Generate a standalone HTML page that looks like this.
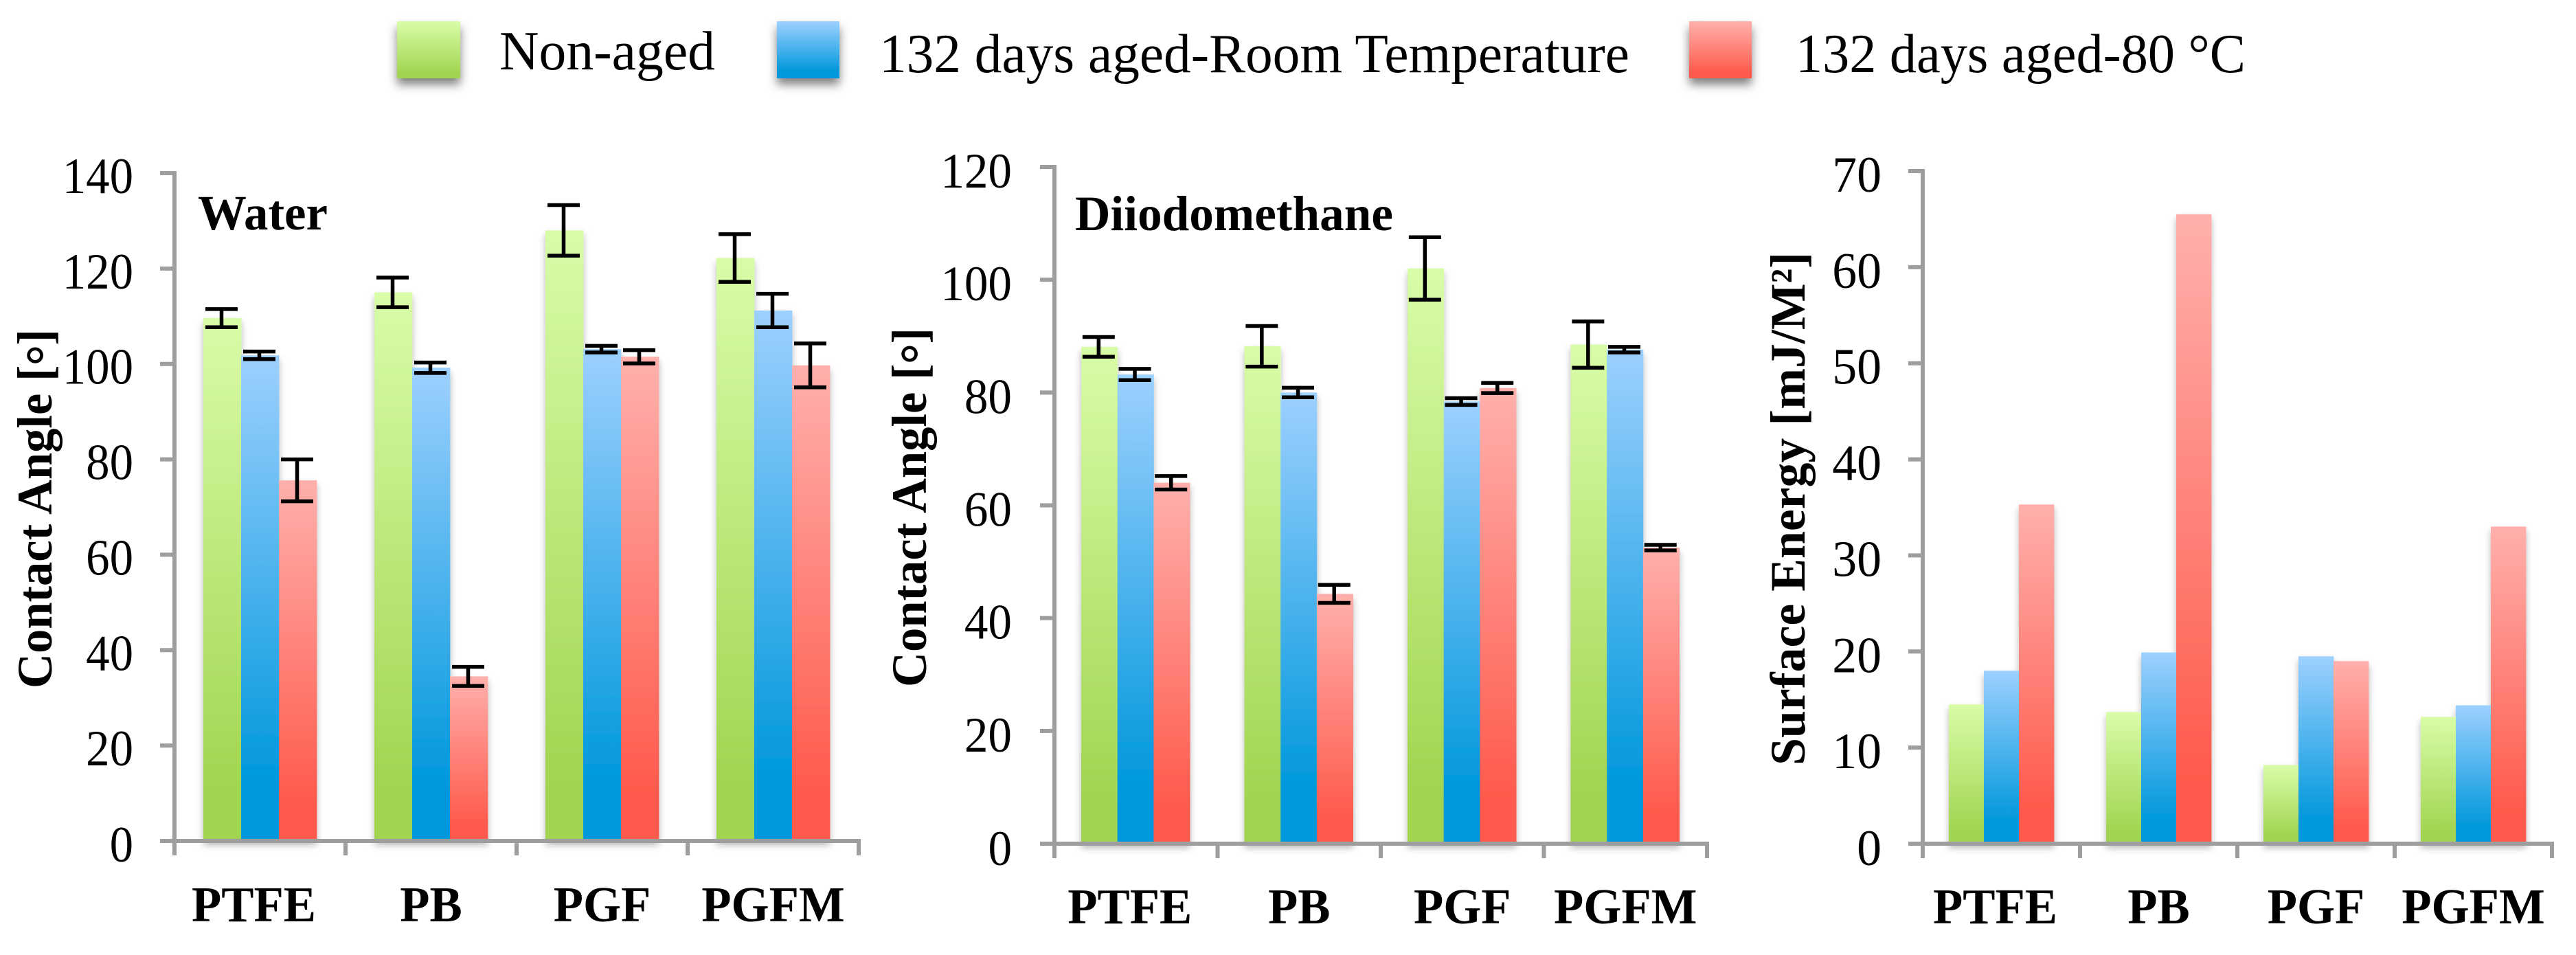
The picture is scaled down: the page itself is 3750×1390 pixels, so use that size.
<!DOCTYPE html>
<html lang="en">
<head>
<meta charset="utf-8">
<title>Contact angle and surface energy</title>
<style>
html,body{margin:0;padding:0;background:#fff;}
svg{display:block;}
text{font-family:"Liberation Serif","DejaVu Serif",serif;fill:#000;}
</style>
</head>
<body>
<svg id="figure" xmlns="http://www.w3.org/2000/svg" width="3750" height="1390" viewBox="0 0 3750 1390">
  <defs>
    <linearGradient id="grad-green" x1="0" y1="0" x2="0" y2="1"><stop offset="0" stop-color="#d9fca8"/><stop offset="0.92" stop-color="#a1d44f"/></linearGradient>
    <linearGradient id="grad-blue" x1="0" y1="0" x2="0" y2="1"><stop offset="0" stop-color="#9dd0ff"/><stop offset="0.88" stop-color="#0098dc"/></linearGradient>
    <linearGradient id="grad-red" x1="0" y1="0" x2="0" y2="1"><stop offset="0" stop-color="#ffb0ac"/><stop offset="0.9" stop-color="#ff5a4c"/></linearGradient>
    <filter id="bar-shadow" x="-15%" y="-5%" width="130%" height="110%"><feDropShadow dx="0" dy="6" stdDeviation="5" flood-color="#000" flood-opacity="0.28"/></filter>
    <filter id="swatch-shadow" x="-30%" y="-30%" width="160%" height="170%"><feDropShadow dx="0" dy="9" stdDeviation="7" flood-color="#000" flood-opacity="0.5"/></filter>
  </defs>
  <rect x="0" y="0" width="3750" height="1390" fill="#fff"/>
  <g>
    <g>
      <rect x="578" y="31" width="92" height="83" fill="url(#grad-green)" filter="url(#swatch-shadow)"/>
      <text x="727" y="101" font-size="81" textLength="314" lengthAdjust="spacingAndGlyphs">Non-aged</text>
    </g>
    <g>
      <rect x="1131" y="31" width="91" height="83" fill="url(#grad-blue)" filter="url(#swatch-shadow)"/>
      <text x="1280" y="105" font-size="81" textLength="1092" lengthAdjust="spacingAndGlyphs">132 days aged-Room Temperature</text>
    </g>
    <g>
      <rect x="2459" y="31" width="91" height="83" fill="url(#grad-red)" filter="url(#swatch-shadow)"/>
      <text x="2614" y="105" font-size="81" textLength="655" lengthAdjust="spacingAndGlyphs">132 days aged-80 °C</text>
    </g>
  </g>
  <g id="charts"></g>
</svg>
<script>
const categories = ['PTFE', 'PB', 'PGF', 'PGFM'];

const waterTicks = [0, 20, 40, 60, 80, 100, 120, 140];
const waterNonAged = [109.6, 115, 128, 122.2];
const waterRoom = [101.8, 99.2, 103.1, 111.2];
const water80 = [75.6, 34.5, 101.5, 99.7];
const waterNonAgedErr = [1.9, 3.1, 5.3, 5];
const waterRoomErr = [0.8, 1.1, 0.7, 3.5];
const water80Err = [4.4, 2, 1.4, 4.6];

const diiodoTicks = [0, 20, 40, 60, 80, 100, 120];
const diiodoNonAged = [88.1, 88.2, 102, 88.5];
const diiodoRoom = [83.2, 80, 78.4, 87.6];
const diiodo80 = [64, 44.3, 80.8, 52.5];
const diiodoNonAgedErr = [1.75, 3.6, 5.55, 4.1];
const diiodoRoomErr = [1, 0.85, 0.6, 0.5];
const diiodo80Err = [1.2, 1.6, 0.9, 0.5];

const energyTicks = [0, 10, 20, 30, 40, 50, 60, 70];
const energyNonAged = [14.5, 13.7, 8.2, 13.2];
const energyRoom = [18, 19.9, 19.5, 14.4];
const energy80 = [35.3, 65.5, 19, 33];

const NS = 'http://www.w3.org/2000/svg';
const root = document.getElementById('charts');
const fills = ['url(#grad-green)', 'url(#grad-blue)', 'url(#grad-red)'];
const seriesNames = ['non-aged', 'room-temperature', '80c'];
const AXIS = '#9e9e9e';

function make(parent, tag, attrs, text) {
  const el = document.createElementNS(NS, tag);
  for (const k in attrs) el.setAttribute(k, attrs[k]);
  if (text !== undefined) el.textContent = text;
  parent.appendChild(el);
  return el;
}

function drawChart(c) {
  const yOf = v => c.y0 - (v / c.yMax) * (c.y0 - c.yTop);
  const catW = (c.xEnd - c.x0) / categories.length;
  const catX = i => c.x0 + catW * i;

  const g = make(root, 'g', {});
  
  

  categories.forEach((cat, i) => {
    const group = make(g, 'g', { filter: 'url(#bar-shadow)' });
    
    
    c.series.forEach((vals, s) => {
      const top = yOf(vals[i]);
      const bar = make(group, 'rect', {
        x: catX(i) + c.barOffset + s * c.barW,
        y: top,
        width: c.barW + 0.4,
        height: c.y0 - top,
        fill: fills[s]
      });
      
      
    });
  });

  const axes = make(g, 'g', { stroke: AXIS, 'stroke-width': 6, fill: 'none' });
  
  
  const yAxis = make(axes, 'line', { x1: c.x0, x2: c.x0, y1: yOf(c.yMax) - 3, y2: c.y0 + 21 });
  
  
  const xAxis = make(axes, 'line', { x1: c.x0 - 21, x2: c.xEnd + 3, y1: c.y0, y2: c.y0 });
  
  

  c.ticks.forEach(t => {
    const y = yOf(t);
    const tick = make(axes, 'line', { x1: c.x0 - 21, x2: c.x0, y1: y, y2: y });
    
    
    const label = String(t);
    const txt = make(g, 'text', {
      x: c.tickRight,
      y: y + c.tickDy + (t === 0 ? 1 : 0),
      'font-size': c.tickFont,
      'text-anchor': 'end',
      textLength: label.length * 0.5 * c.tickFont * c.tickSqueeze,
      lengthAdjust: 'spacingAndGlyphs'
    }, label);
    
    
  });

  for (let i = 0; i <= categories.length; i++) {
    const tick = make(axes, 'line', { x1: catX(i), x2: catX(i), y1: c.y0, y2: c.y0 + 21 });
    
    
  }

  if (c.errors) {
    const errs = make(g, 'g', { stroke: '#000', 'stroke-width': 5.5, fill: 'none' });
    
    
    categories.forEach((cat, i) => {
      c.series.forEach((vals, s) => {
        const cx = catX(i) + c.barOffset + (s + 0.5) * c.barW - 1;
        const hi = yOf(vals[i] + c.errors[s][i]);
        const lo = yOf(vals[i] - c.errors[s][i]);
        const hw = c.capW / 2;
        const eb = make(errs, 'path', {
          d: 'M' + (cx - hw) + ' ' + hi + 'H' + (cx + hw) + 'M' + cx + ' ' + hi + 'V' + lo + 'M' + (cx - hw) + ' ' + lo + 'H' + (cx + hw)
        });
        
        
      });
    });
  }

  categories.forEach((cat, i) => {
    const txt = make(g, 'text', {
      x: catX(i) + catW / 2 + (i === 0 ? -9 : 0),
      y: c.catBase,
      'font-size': 73,
      'font-weight': 'bold',
      'text-anchor': 'middle'
    }, cat);
    
    
    txt.setAttribute('textLength', txt.getComputedTextLength() * 0.97);
    txt.setAttribute('lengthAdjust', 'spacingAndGlyphs');
  });

  const title = make(g, 'text', {
    x: 0, y: 0,
    transform: 'translate(' + c.titleX + ' ' + c.titleBottom + ') rotate(-90)',
    'font-size': 72,
    'font-weight': 'bold',
    textLength: c.titleLen,
    lengthAdjust: 'spacingAndGlyphs'
  });
  
  
  c.title.split('∘').forEach((part, idx) => {
    if (idx > 0) {
      make(title, 'tspan', { 'font-weight': 'normal', 'font-family': 'DejaVu Sans', 'font-size': 76, dx: -9 }, '∘');
      make(title, 'tspan', { dx: -9 }, part);
    } else {
      make(title, 'tspan', {}, part);
    }
  });

  if (c.note) {
    const note = make(g, 'text', {
      x: c.noteX, y: c.noteY, 'font-size': 72, 'font-weight': 'bold',
      textLength: c.noteLen, lengthAdjust: 'spacingAndGlyphs'
    }, c.note);
    
    
  }
}

drawChart({
  name: 'water-contact-angle-chart',
  x0: 254, xEnd: 1250, y0: 1224, yTop: 252, yMax: 140,
  barOffset: 42, barW: 55, capW: 47,
  ticks: waterTicks, tickRight: 194, tickDy: 29, tickFont: 74, tickSqueeze: 0.93,
  series: [waterNonAged, waterRoom, water80],
  errors: [waterNonAgedErr, waterRoomErr, water80Err],
  catBase: 1341,
  title: 'Contact Angle [∘]', titleX: 75, titleBottom: 1002, titleLen: 523,
  note: 'Water', noteX: 288, noteY: 334, noteLen: 189
});

drawChart({
  name: 'diiodomethane-contact-angle-chart',
  x0: 1535, xEnd: 2485, y0: 1228, yTop: 243, yMax: 120,
  barOffset: 39, barW: 52.7, capW: 47,
  ticks: diiodoTicks, tickRight: 1473, tickDy: 30, tickFont: 72, tickSqueeze: 0.96,
  series: [diiodoNonAged, diiodoRoom, diiodo80],
  errors: [diiodoNonAgedErr, diiodoRoomErr, diiodo80Err],
  catBase: 1344,
  title: 'Contact Angle [∘]', titleX: 1348, titleBottom: 1000, titleLen: 523,
  note: 'Diiodomethane', noteX: 1565, noteY: 335, noteLen: 463
});

drawChart({
  name: 'surface-energy-chart',
  x0: 2799, xEnd: 3715, y0: 1228, yTop: 249, yMax: 70,
  barOffset: 38, barW: 51, capW: 0,
  ticks: energyTicks, tickRight: 2739, tickDy: 30, tickFont: 74, tickSqueeze: 0.97,
  series: [energyNonAged, energyRoom, energy80],
  errors: null,
  catBase: 1344,
  title: 'Surface Energy [mJ/M²]', titleX: 2627, titleBottom: 1114, titleLen: 747
});
</script>
</body>
</html>
